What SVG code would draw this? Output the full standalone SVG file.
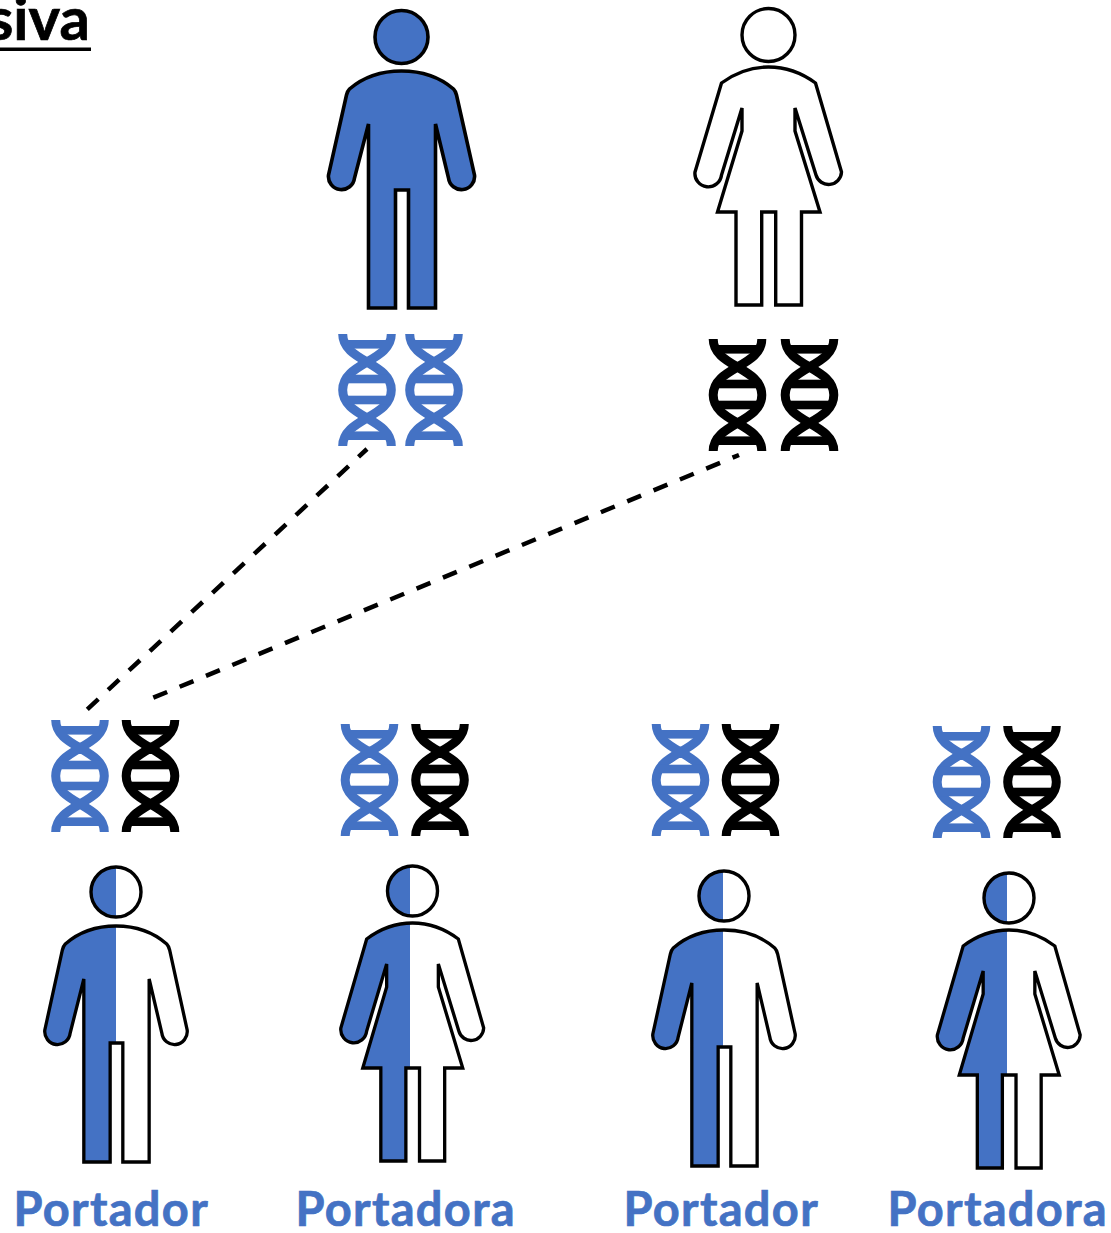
<svg xmlns="http://www.w3.org/2000/svg" width="1111" height="1233" viewBox="0 0 1111 1233">
<style>
.t{font-family:"Lato","Carlito","Liberation Sans",sans-serif;font-weight:700}
.lbl{font-size:47px;fill:#4472C4;stroke:#4472C4;stroke-width:.7;letter-spacing:1.3px}
.title{font-size:60px;fill:#000;stroke:#000;stroke-width:.7}
.outline{fill:none;stroke:#000;stroke-width:3.6;stroke-linejoin:miter}
.thin{stroke-width:3.4}
.blue{fill:#4472C4}
.white{fill:#fff}
.db{color:#4472C4}
.dk{color:#000}
.dash{fill:none;stroke:#000;stroke-width:4.500;stroke-dasharray:15 13.500}
</style>
<defs>
<path id="man" d="M-52 52C-38 40-20 34 0 34C20 34 38 40 52 52Q54 54 55 58L73 138A13 13 0 0 1 47 141L34 87V271H7V153H-6V271H-33V87L-47 141A13 13 0 0 1-73 138L-55 58Q-54 54-52 52Z"/>
<path id="woman" d="M-47 48C-32 37-16 32 0 32C16 32 32 37 47 48L73 137A13 13 0 0 1 47.500 140L26.500 73V96L51.500 177H33V270H7.200V177H-6.800V270H-32.500V177H-51L-26.500 96V73L-47 140A13 13 0 0 1-73.500 137Z"/>
<path id="man2" transform="scale(.975 1)" d="M-52 52C-38 40-20 34 0 34C20 34 38 40 52 52Q54 54 55 58L73 138A13 13 0 0 1 47 141L34 87V270H7V151H-6V270H-33V87L-47 141A13 13 0 0 1-73 138L-55 58Q-54 54-52 52Z"/>
<path id="woman2" transform="scale(.975 1)" d="M-47 48C-32 37-16 32 0 32C16 32 32 37 47 48L73 137A13 13 0 0 1 47.500 140L26.500 73V96L51.500 177H33V270H7.200V177H-6.800V270H-32.500V177H-51L-26.500 96V73L-47 140A13 13 0 0 1-73.500 137Z"/>
<circle id="head" r="26.500"/>
<circle id="head2" r="25"/>
<g id="dna" fill="currentColor">
<path d="M-24.300-56C-24.300-42-12-35 0-28C12-21 24.300-14 24.300 0C24.300 14 12 21 0 28C-12 35-24.300 42-24.300 56M24.300-56C24.300-42 12-35 0-28C-12-21-24.300-14-24.300 0C-24.300 14-12 21 0 28C12 35 24.300 42 24.300 56" fill="none" stroke="currentColor" stroke-width="9"/>
<rect x="-22" y="-50" width="44" height="8.600"/>
<rect x="-22" y="-15.300" width="44" height="8.600"/>
<rect x="-22" y="5.700" width="44" height="8.600"/>
<rect x="-22" y="41.400" width="44" height="8.600"/>
</g>
<clipPath id="cm1"><rect x="-100" y="-40" width="100" height="330"/></clipPath>
<clipPath id="cw2"><rect x="-102.500" y="-40" width="100" height="330"/></clipPath>
<clipPath id="cm3"><rect x="-101" y="-40" width="100" height="330"/></clipPath>
<clipPath id="cw4"><rect x="-102" y="-40" width="100" height="330"/></clipPath>
</defs>

<text class="t title" x="90" y="40" text-anchor="end">siva</text>
<rect x="0" y="47.500" width="91" height="3.500"/>

<g id="connectors">
<line class="dash" x1="87.300" y1="709.300" x2="367" y2="449"/>
<line class="dash" x1="153.300" y1="697.700" x2="739" y2="455"/>
</g>

<g id="father" transform="translate(401.500 37)">
<use href="#head" class="blue"/><use href="#man" class="blue"/>
<use href="#head" class="outline"/><use href="#man" class="outline"/>
</g>
<g id="mother" transform="translate(768.500 35)">
<use href="#head" class="white"/><use href="#woman" class="white"/>
<use href="#head" class="outline thin"/><use href="#woman" class="outline thin"/>
</g>
<g id="father-dna"><use href="#dna" class="db" x="367" y="390"/><use href="#dna" class="db" x="434" y="390"/></g>
<g id="mother-dna"><use href="#dna" class="dk" x="737.500" y="395"/><use href="#dna" class="dk" x="809.500" y="395"/></g>

<g id="child1-dna"><use href="#dna" class="db" x="80" y="776"/><use href="#dna" class="dk" x="150.500" y="776"/></g>
<g id="child2-dna"><use href="#dna" class="db" x="369.500" y="780"/><use href="#dna" class="dk" x="440" y="780"/></g>
<g id="child3-dna"><use href="#dna" class="db" x="680.500" y="780"/><use href="#dna" class="dk" x="750.500" y="780"/></g>
<g id="child4-dna"><use href="#dna" class="db" x="961.500" y="782"/><use href="#dna" class="dk" x="1032" y="782"/></g>

<g id="child1" transform="translate(116 892)">
<g class="white"><use href="#head2"/><use href="#man2"/></g>
<g class="blue" clip-path="url(#cm1)"><use href="#head2"/><use href="#man2"/></g>
<use href="#head2" class="outline thin"/><use href="#man2" class="outline thin"/>
</g>
<g id="child2" transform="translate(412.500 891)">
<g class="white"><use href="#head2"/><use href="#woman2"/></g>
<g class="blue" clip-path="url(#cw2)"><use href="#head2"/><use href="#woman2"/></g>
<use href="#head2" class="outline thin"/><use href="#woman2" class="outline thin"/>
</g>
<g id="child3" transform="translate(724 896)">
<g class="white"><use href="#head2"/><use href="#man2"/></g>
<g class="blue" clip-path="url(#cm3)"><use href="#head2"/><use href="#man2"/></g>
<use href="#head2" class="outline thin"/><use href="#man2" class="outline thin"/>
</g>
<g id="child4" transform="translate(1009 898)">
<g class="white"><use href="#head2"/><use href="#woman2"/></g>
<g class="blue" clip-path="url(#cw4)"><use href="#head2"/><use href="#woman2"/></g>
<use href="#head2" class="outline thin"/><use href="#woman2" class="outline thin"/>
</g>

<g id="labels">
<text class="t lbl" x="13.500" y="1226">Portador</text>
<text class="t lbl" x="295.500" y="1226">Portadora</text>
<text class="t lbl" x="623.500" y="1226">Portador</text>
<text class="t lbl" x="887.500" y="1226">Portadora</text>
</g>
</svg>
